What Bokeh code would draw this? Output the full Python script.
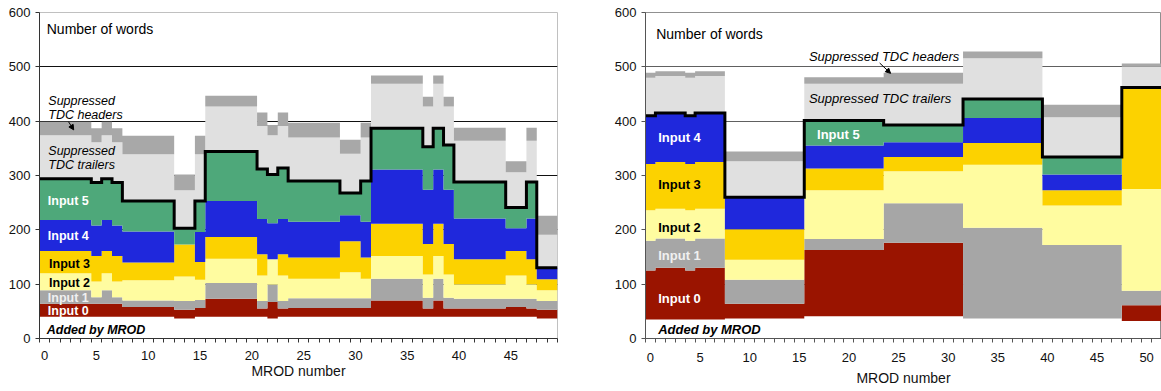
from bokeh.plotting import figure
from bokeh.layouts import row
from bokeh.models import Range1d, FixedTicker, Label, Arrow, NormalHead
from bokeh.embed import file_html
from bokeh.resources import INLINE

FONT = "Liberation Sans"

# ---------------- Left panel data (MROD 0..49) ----------------
L_added = [40, 40, 40, 40, 40, 40, 40, 40, 40, 40, 40, 40, 40, 37, 37, 40, 40, 40, 40, 40,
           40, 40, 37, 40, 40, 40, 40, 40, 40, 40, 40, 40, 40, 40, 40, 40, 40, 40, 40, 40,
           40, 40, 40, 40, 40, 40, 40, 40, 37, 37]
L_in0 = [24, 24, 24, 24, 24, 24, 24, 24, 18, 18, 18, 18, 18, 16, 16, 16, 33, 33, 33, 33,
         33, 15, 30, 15, 16, 16, 16, 16, 16, 16, 16, 16, 30, 30, 30, 30, 30, 15, 30, 15,
         15, 15, 15, 15, 15, 18, 18, 15, 16, 16]
L_in1 = [25, 25, 25, 25, 25, 12, 25, 12, 12, 12, 12, 12, 12, 16, 16, 15, 29, 29, 29, 29,
         29, 14, 32, 14, 18, 18, 18, 18, 18, 18, 18, 18, 40, 40, 40, 40, 40, 20, 40, 20,
         18, 18, 18, 18, 18, 15, 15, 18, 16, 16]
L_in2 = [31, 31, 31, 31, 31, 29, 31, 29, 37, 37, 37, 37, 37, 45, 45, 37, 45, 45, 45, 45,
         45, 47, 47, 47, 36, 36, 36, 36, 36, 48, 48, 36, 42, 42, 42, 42, 42, 43, 42, 43,
         27, 27, 27, 27, 27, 43, 43, 27, 20, 20]
L_in3 = [41, 41, 41, 41, 41, 47, 41, 47, 33, 33, 33, 33, 33, 59, 59, 33, 40, 40, 40, 40,
         40, 39, 0, 39, 39, 39, 39, 39, 39, 57, 57, 39, 59, 59, 59, 59, 59, 56, 59, 56,
         46, 46, 46, 46, 46, 45, 45, 46, 20, 20]
L_in4 = [57, 57, 57, 57, 57, 56, 57, 56, 57, 57, 57, 57, 57, 0, 0, 55, 66, 66, 66, 66,
         66, 65, 66, 65, 66, 66, 66, 66, 66, 48, 48, 66, 100, 100, 100, 100, 100, 100, 100, 100,
         75, 75, 75, 75, 75, 42, 42, 75, 21, 21]
L_in5 = [76, 76, 76, 76, 76, 79, 76, 79, 56, 56, 56, 56, 56, 30, 30, 57, 91, 91, 91, 91,
         91, 92, 90, 94, 75, 75, 75, 75, 75, 41, 41, 75, 76, 76, 76, 76, 76, 79, 76, 82,
         67, 67, 67, 67, 67, 38, 38, 67, 0, 0]
L_trailers = [80, 80, 80, 80, 80, 74, 80, 74, 86, 86, 86, 86, 86, 70, 70, 86, 83, 83, 83, 83,
              83, 79, 72, 77, 80, 80, 80, 80, 80, 72, 72, 80, 82, 82, 82, 82, 82, 74, 82, 71,
              76, 76, 76, 76, 76, 65, 65, 76, 61, 61]
L_headers = [25, 25, 25, 25, 25, 26, 25, 26, 34, 34, 34, 34, 34, 29, 29, 34, 20, 20, 20, 20,
             20, 25, 19, 25, 27, 27, 27, 27, 27, 26, 26, 27, 15, 15, 15, 15, 15, 18, 15, 18,
             24, 24, 24, 24, 24, 20, 20, 24, 35, 35]

# ---------------- Right panel data (MROD 0..51) ----------------
R_added = [35] * 8 + [37] * 8 + [41] * 8 + [41] * 8 + [37] * 8 + [37] * 8 + [32] * 4
R_in0 = [90, 95, 95, 95, 90, 95, 95, 95] + [27] * 8 + [122] * 8 + [135] * 8 + [0] * 8 + [0] * 8 + [29] * 4
R_in1 = [55, 54, 54, 54, 55, 54, 54, 54] + [44] * 8 + [20] * 8 + [73] * 8 + [167] * 8 + [135] * 8 + [27] * 4
R_in2 = [56, 55, 55, 55, 56, 55, 55, 55] + [37] * 8 + [90] * 8 + [59] * 8 + [116] * 8 + [73] * 8 + [187] * 4
R_in3 = [85, 86, 86, 86, 85, 86, 86, 86] + [56] * 8 + [40] * 8 + [26] * 8 + [40] * 8 + [28] * 8 + [187] * 4
R_in4 = [89, 90, 90, 90, 89, 90, 90, 90] + [59] * 8 + [42] * 8 + [27] * 8 + [46] * 8 + [29] * 8 + [0] * 4
R_in5 = [0] * 8 + [0] * 8 + [46] * 8 + [32] * 8 + [35] * 8 + [32] * 8 + [0] * 4
R_trailers = [70, 68, 68, 68, 70, 68, 68, 68] + [66] * 8 + [68] * 8 + [76] * 8 + [75] * 8 + [73] * 8 + [38] * 4
R_headers = [9] * 8 + [18] * 8 + [12] * 8 + [20] * 8 + [12] * 8 + [23] * 8 + [6] * 4

y_ticks = [0, 100, 200, 300, 400, 500, 600]
layer_colors = ["#9a1400", "#a6a6a6", "#fffca0", "#fcd200", "#1f28dc", "#4ea87a", "#e0e0e0", "#a8a8a8"]


def steps(vals):
    xs, ys = [], []
    for i, v in enumerate(vals):
        xs += [i - 0.5, i + 0.5]
        ys += [v, v]
    return xs, ys


def make_panel(n, added, layers, width, height, border_left, border_right, border_top, border_bottom,
               grid_color, outline_color, axis_color, tick_standoff, title_standoff):
    p = figure(output_backend="svg", toolbar_location=None,
               width=width, height=height,
               min_border_left=border_left, min_border_right=border_right,
               min_border_top=border_top, min_border_bottom=border_bottom,
               x_range=Range1d(-0.5, n - 0.5), y_range=Range1d(0, 600))
    p.background_fill_color = "white"
    p.border_fill_color = "white"
    p.outline_line_color = outline_color
    p.outline_line_width = 1

    cum = list(added)
    xs, _ = steps(cum)
    for vals, col in zip(layers, layer_colors):
        bottom = list(cum)
        cum = [a + b for a, b in zip(cum, vals)]
        _, yb = steps(bottom)
        _, yt = steps(cum)
        p.varea(x=xs, y1=yb, y2=yt, fill_color=col)
    # total of real data words (top of input 5)
    total = list(added)
    for vals in layers[:6]:
        total = [a + b for a, b in zip(total, vals)]
    _, yt = steps(total)
    p.line(xs, yt, line_color="black", line_width=3, line_join="miter")

    p.xgrid.visible = False
    p.ygrid.ticker = FixedTicker(ticks=y_ticks[1:-1])
    p.ygrid.grid_line_color = grid_color
    p.ygrid.grid_line_width = 1

    p.yaxis.ticker = FixedTicker(ticks=y_ticks)
    p.yaxis.major_tick_out = 4
    p.yaxis.major_tick_in = 0
    p.yaxis.minor_tick_out = 0
    p.yaxis.major_label_standoff = 5
    p.yaxis.major_label_text_font = FONT
    p.yaxis.major_label_text_font_size = "13px"
    p.yaxis.major_label_text_color = "#111111"
    p.yaxis.axis_line_color = axis_color
    p.yaxis.major_tick_line_color = axis_color

    p.xaxis.ticker = FixedTicker(ticks=list(range(0, n, 5)),
                                 minor_ticks=[i - 0.5 for i in range(n + 1)])
    p.xaxis.major_tick_out = 0
    p.xaxis.major_tick_in = 0
    p.xaxis.minor_tick_out = 4
    p.xaxis.minor_tick_in = 0
    p.xaxis.minor_tick_line_color = axis_color
    p.xaxis.axis_line_color = axis_color
    p.xaxis.major_label_standoff = tick_standoff
    p.xaxis.major_label_text_font = FONT
    p.xaxis.major_label_text_font_size = "13px"
    p.xaxis.major_label_text_color = "#111111"
    p.xaxis.axis_label = "MROD number"
    p.xaxis.axis_label_standoff = title_standoff
    p.xaxis.axis_label_text_font = FONT
    p.xaxis.axis_label_text_font_size = "14px"
    p.xaxis.axis_label_text_font_style = "normal"
    p.xaxis.axis_label_text_color = "#111111"
    return p


def add_label(p, x, y, text, color="black", style="bold", size="12.5px"):
    p.add_layout(Label(x=x, y=y, text=text, text_color=color, text_font=FONT,
                       text_font_style=style, text_font_size=size,
                       text_baseline="middle", text_align="left"))


# ---------------- Left panel ----------------
left_layers = [L_in0, L_in1, L_in2, L_in3, L_in4, L_in5, L_trailers, L_headers]
# frame: 518 x 329 at (39, 12)
p1 = make_panel(50, L_added, left_layers, 590, 388, 39, 33, 12, 47,
                "#111111", "#c0c0c0", "#333333", 8, 0)
add_label(p1, 0.2, 569, "Number of words", style="normal", size="14px")
add_label(p1, 0.35, 438, "Suppressed", style="italic")
add_label(p1, 0.35, 411, "TDC headers", style="italic")
add_label(p1, 0.35, 345, "Suppressed", style="italic")
add_label(p1, 0.35, 320, "TDC trailers", style="italic")
add_label(p1, 0.3, 253, "Input 5", color="white")
add_label(p1, 0.3, 189, "Input 4", color="white")
add_label(p1, 0.42, 138, "Input 3")
add_label(p1, 0.42, 103, "Input 2")
add_label(p1, 0.3, 74, "Input 1", color="#f0f0f0")
add_label(p1, 0.3, 51, "Input 0", color="white")
add_label(p1, 0.2, 16, "Added by MROD", style="bold italic")
p1.add_layout(Arrow(end=NormalHead(size=5, fill_color="black", line_color="black"),
                    x_start=2.3, y_start=399, x_end=2.8, y_end=384,
                    line_color="black", line_width=1))

# ---------------- Right panel ----------------
right_layers = [R_in0, R_in1, R_in2, R_in3, R_in4, R_in5, R_trailers, R_headers]
# frame: 516 x 327 at (645, 12)
p2 = make_panel(52, R_added, right_layers, 571, 388, 55, 0, 12, 49,
                "#606060", "#909090", "#555555", 10, 5)
add_label(p2, 0.58, 561, "Number of words", style="normal", size="14px")
add_label(p2, 15.97, 519.5, "Suppressed TDC headers", style="italic", size="13px")
add_label(p2, 15.97, 441, "Suppressed TDC trailers", style="italic", size="13px")
add_label(p2, 0.78, 370, "Input 4", color="white", size="13px")
add_label(p2, 16.79, 375.5, "Input 5", color="white", size="13px")
add_label(p2, 0.78, 283.5, "Input 3", size="13px")
add_label(p2, 0.78, 205, "Input 2", size="13px")
add_label(p2, 0.78, 152, "Input 1", color="#f0f0f0", size="13px")
add_label(p2, 0.78, 73, "Input 0", color="white", size="13px")
add_label(p2, 0.78, 16.5, "Added by MROD", style="bold italic", size="13px")
p2.add_layout(Arrow(end=NormalHead(size=5, fill_color="black", line_color="black"),
                    x_start=23.1, y_start=507, x_end=24.2, y_end=488,
                    line_color="black", line_width=1))

layout = row(p1, p2)
open("out.html", "w").write(file_html(layout, INLINE))
